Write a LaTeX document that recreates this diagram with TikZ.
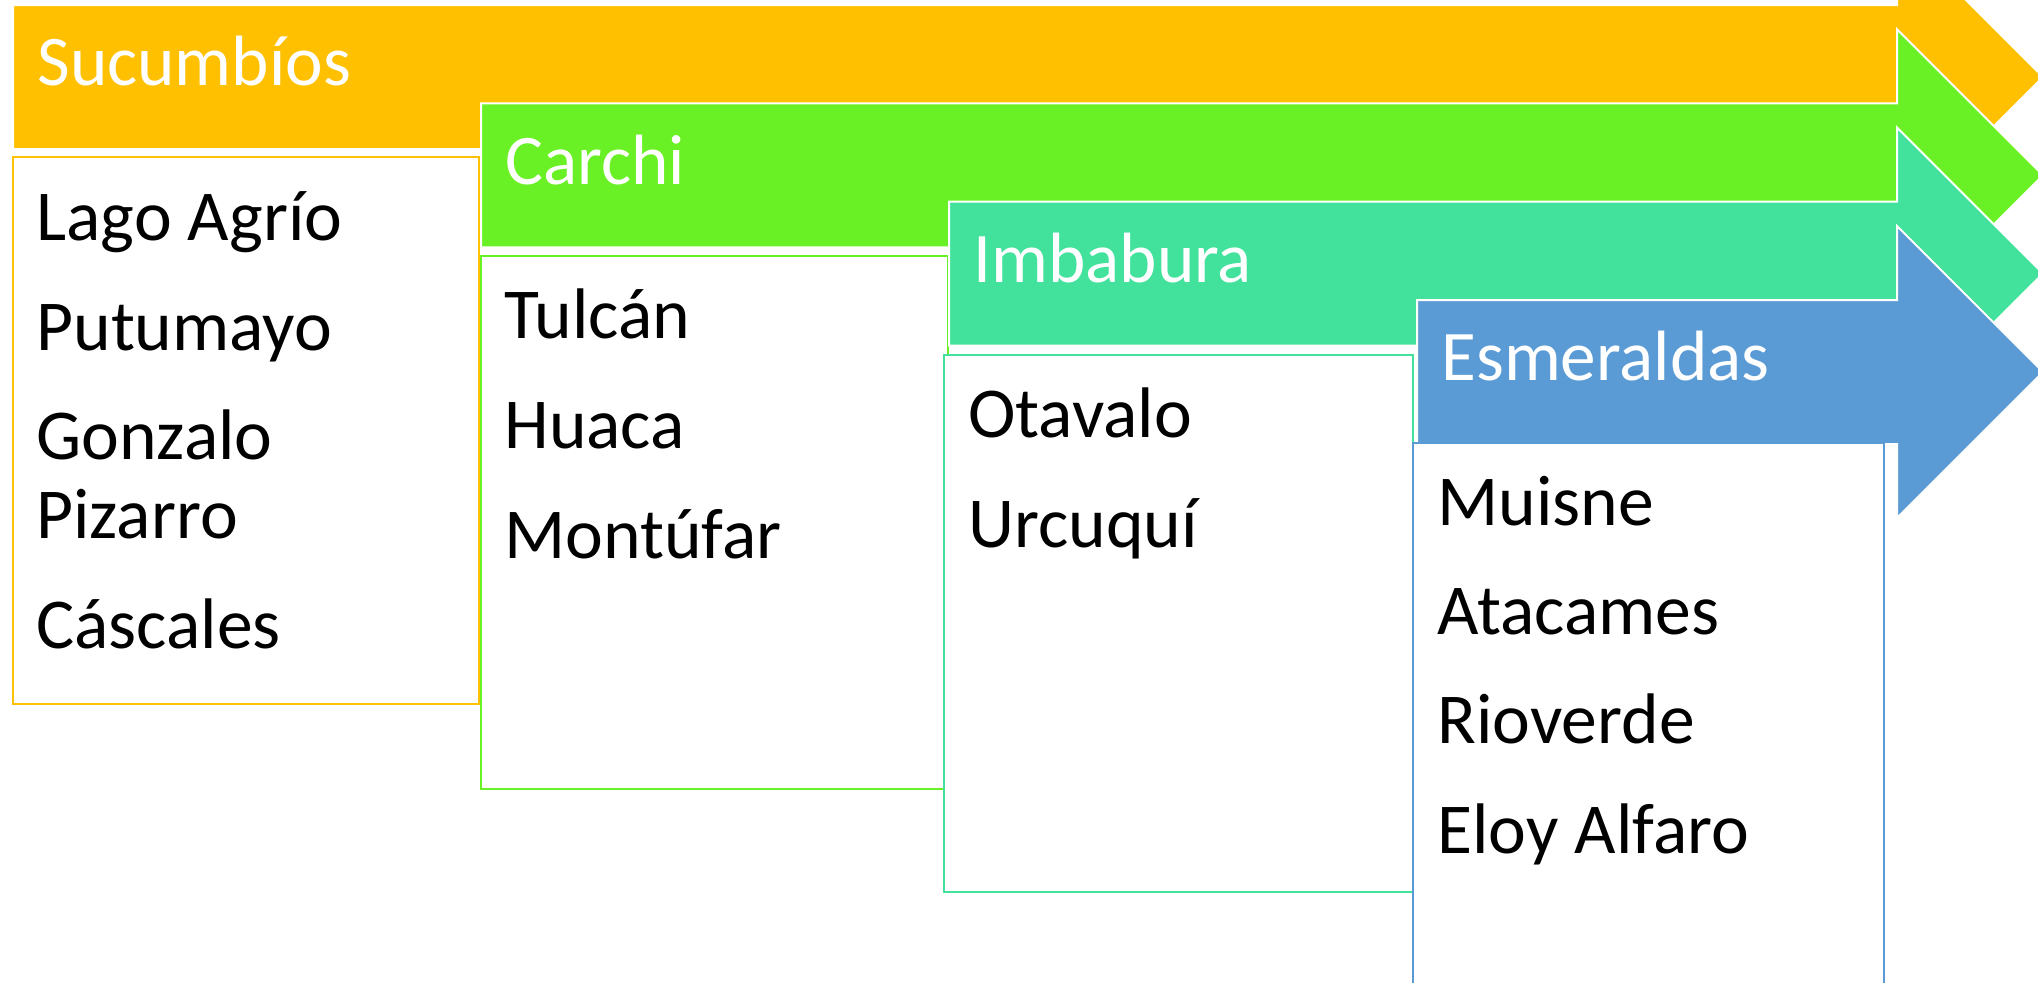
\documentclass[tikz,border=0pt]{standalone}
\usepackage{fontspec}
\setmainfont{Carlito}

\definecolor{sucOrange}{HTML}{FFC000}
\definecolor{carGreen}{HTML}{6AF125}
\definecolor{imbTeal}{HTML}{42E29C}
\definecolor{esmBlue}{HTML}{5B9BD5}

\tikzset{
  arrowbar/.style={draw=white,line width=1pt,line join=miter},
  listbox/.style={fill=white,line width=0.8pt},
  headtext/.style={anchor=base west,inner sep=0pt,text=white,
    font=\fontsize{35.6}{40}\selectfont},
  listtext/.style={anchor=base west,inner sep=0pt,text=black,
    font=\fontsize{35.8}{40}\selectfont}
}

\begin{document}
\begin{tikzpicture}[x=0.5pt,y=-0.5pt]
  \clip (0,0) rectangle (2038,982);
  \fill[white] (0,0) rectangle (2038,982);

  % arrows and their list boxes, back to front
  \foreach \col/\L/\T/\bl/\bt/\br/\bb in
      {sucOrange/13/5/13/157/479/704,
       carGreen/481/103.3/481/256/948/789,
       imbTeal/949/201.6/944/355/1413/892,
       esmBlue/1417/300/1413/443/1884/1010}
  {
    \filldraw[arrowbar,fill=\col] (\L,\T) -- (1897,\T) -- (1897,\T-74)
      -- (2043,\T+72) -- (1897,\T+218) -- (1897,\T+144)
      -- (\L,\T+144) -- cycle;
    \draw[listbox,draw=\col] (\bl,\bt) rectangle (\br,\bb);
  }

  % Sucumbios
  \node[headtext] (suc) at (37,85) {Sucumbíos};
  \foreach \t/\y [count=\k] in {Lago Agrío/240,Putumayo/350,Gonzalo/459,
                                Pizarro/538,Cáscales/648}
    \node[listtext] (suc-\k) at (36,\y) {\t};

  % Carchi
  \node[headtext] (car) at (505,184) {Carchi};
  \foreach \t/\y [count=\k] in {Tulcán/338,Huaca/448,Montúfar/558}
    \node[listtext] (car-\k) at (504,\y) {\t};

  % Imbabura
  \node[headtext] (imb) at (973,282) {Imbabura};
  \foreach \t/\y [count=\k] in {Otavalo/437,Urcuquí/547}
    \node[listtext] (imb-\k) at (968,\y) {\t};

  % Esmeraldas
  \node[headtext] (esm) at (1441,380) {Esmeraldas};
  \foreach \t/\y [count=\k] in {Muisne/525,Atacames/634,Rioverde/743,
                                Eloy Alfaro/853}
    \node[listtext] (esm-\k) at (1437,\y) {\t};
\end{tikzpicture}
\end{document}
